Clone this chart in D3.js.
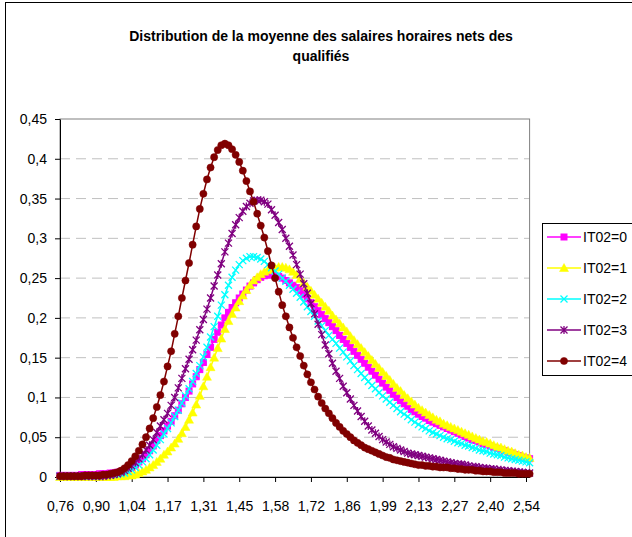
<!DOCTYPE html>
<html>
<head>
<meta charset="utf-8">
<script src="https://cdn.jsdelivr.net/npm/d3@7"></script>
<style>
  body { margin: 0; background: #fff; }
  svg { display: block; font-family: "Liberation Sans", Arial, sans-serif; }
</style>
</head>
<body>
<script>
// Distribution de la moyenne des salaires horaires nets des qualifiés
// 132 categories, labels every 10 categories

const xTickLabels = ["0,76", "0,90", "1,04", "1,17", "1,31", "1,45", "1,58", "1,72", "1,86", "1,99", "2,13", "2,27", "2,40", "2,54"];
const yTickValues = [0, 0.05, 0.1, 0.15, 0.2, 0.25, 0.3, 0.35, 0.4, 0.45];
const yTickLabels = ["0", "0,05", "0,1", "0,15", "0,2", "0,25", "0,3", "0,35", "0,4", "0,45"];
const seriesNames = ["IT02=0", "IT02=1", "IT02=2", "IT02=3", "IT02=4"];

const it0 = [
  0.002, 0.002, 0.002, 0.002, 0.002, 0.002, 0.003, 0.003, 0.003, 0.003,
  0.003, 0.004, 0.004, 0.004, 0.005, 0.005, 0.006, 0.007, 0.008, 0.010,
  0.012, 0.015, 0.019, 0.023, 0.028, 0.033, 0.039, 0.046, 0.052, 0.058,
  0.064, 0.070, 0.077, 0.084, 0.092, 0.100, 0.108, 0.117, 0.126, 0.135,
  0.144, 0.154, 0.163, 0.173, 0.182, 0.191, 0.200, 0.207, 0.213, 0.219,
  0.225, 0.230, 0.235, 0.240, 0.244, 0.248, 0.251, 0.253, 0.254, 0.254,
  0.253, 0.252, 0.250, 0.247, 0.244, 0.241, 0.238, 0.234, 0.229, 0.224,
  0.219, 0.214, 0.209, 0.204, 0.199, 0.194, 0.189, 0.184, 0.178, 0.173,
  0.168, 0.163, 0.158, 0.153, 0.148, 0.143, 0.138, 0.133, 0.128, 0.123,
  0.118, 0.113, 0.109, 0.104, 0.100, 0.096, 0.092, 0.089, 0.085, 0.082,
  0.079, 0.076, 0.074, 0.071, 0.069, 0.067, 0.065, 0.063, 0.061, 0.059,
  0.057, 0.055, 0.053, 0.051, 0.049, 0.047, 0.046, 0.044, 0.042, 0.041,
  0.039, 0.037, 0.036, 0.034, 0.033, 0.031, 0.030, 0.028, 0.027, 0.025,
  0.024, 0.023
];

const it1 = [
  0.000, 0.000, 0.000, 0.000, 0.000, 0.000, 0.000, 0.000, 0.000, 0.000,
  0.000, 0.000, 0.000, 0.000, 0.000, 0.000, 0.001, 0.001, 0.001, 0.002,
  0.002, 0.003, 0.005, 0.007, 0.009, 0.012, 0.015, 0.019, 0.023, 0.028,
  0.032, 0.037, 0.042, 0.048, 0.055, 0.063, 0.072, 0.081, 0.091, 0.102,
  0.114, 0.126, 0.138, 0.150, 0.162, 0.174, 0.186, 0.196, 0.205, 0.213,
  0.221, 0.228, 0.235, 0.241, 0.247, 0.251, 0.255, 0.258, 0.260, 0.262,
  0.263, 0.264, 0.264, 0.263, 0.261, 0.258, 0.254, 0.249, 0.244, 0.239,
  0.234, 0.229, 0.224, 0.219, 0.214, 0.209, 0.203, 0.198, 0.193, 0.188,
  0.183, 0.177, 0.172, 0.167, 0.162, 0.157, 0.152, 0.147, 0.142, 0.137,
  0.132, 0.127, 0.122, 0.117, 0.112, 0.108, 0.103, 0.099, 0.095, 0.091,
  0.087, 0.084, 0.081, 0.078, 0.075, 0.072, 0.070, 0.067, 0.065, 0.063,
  0.061, 0.059, 0.057, 0.055, 0.053, 0.051, 0.049, 0.047, 0.045, 0.044,
  0.042, 0.040, 0.038, 0.037, 0.035, 0.033, 0.032, 0.030, 0.028, 0.027,
  0.025, 0.024
];

const it2 = [
  0.001, 0.001, 0.001, 0.001, 0.001, 0.001, 0.001, 0.001, 0.001, 0.001,
  0.001, 0.001, 0.002, 0.002, 0.002, 0.003, 0.003, 0.004, 0.005, 0.007,
  0.009, 0.012, 0.015, 0.019, 0.023, 0.028, 0.034, 0.040, 0.047, 0.054,
  0.061, 0.068, 0.076, 0.084, 0.093, 0.102, 0.111, 0.120, 0.130, 0.140,
  0.151, 0.163, 0.176, 0.189, 0.202, 0.216, 0.229, 0.241, 0.251, 0.260,
  0.267, 0.272, 0.275, 0.277, 0.277, 0.276, 0.274, 0.271, 0.267, 0.263,
  0.259, 0.255, 0.250, 0.246, 0.241, 0.236, 0.231, 0.226, 0.220, 0.214,
  0.208, 0.202, 0.196, 0.190, 0.184, 0.178, 0.173, 0.168, 0.162, 0.157,
  0.151, 0.146, 0.140, 0.135, 0.130, 0.125, 0.120, 0.115, 0.111, 0.106,
  0.102, 0.098, 0.094, 0.090, 0.086, 0.082, 0.079, 0.076, 0.072, 0.069,
  0.066, 0.063, 0.061, 0.058, 0.056, 0.054, 0.052, 0.050, 0.048, 0.047,
  0.045, 0.043, 0.042, 0.040, 0.039, 0.037, 0.036, 0.034, 0.033, 0.032,
  0.030, 0.029, 0.028, 0.027, 0.025, 0.024, 0.023, 0.022, 0.021, 0.020,
  0.019, 0.018
];

const it3 = [
  0.001, 0.001, 0.001, 0.001, 0.001, 0.001, 0.001, 0.001, 0.001, 0.001,
  0.001, 0.001, 0.001, 0.002, 0.002, 0.003, 0.004, 0.006, 0.008, 0.011,
  0.014, 0.018, 0.023, 0.028, 0.034, 0.040, 0.047, 0.056, 0.064, 0.072,
  0.080, 0.090, 0.100, 0.112, 0.124, 0.136, 0.148, 0.160, 0.172, 0.185,
  0.198, 0.211, 0.225, 0.240, 0.254, 0.268, 0.283, 0.294, 0.306, 0.317,
  0.326, 0.334, 0.340, 0.344, 0.347, 0.348, 0.348, 0.346, 0.343, 0.336,
  0.329, 0.320, 0.311, 0.300, 0.290, 0.279, 0.267, 0.255, 0.243, 0.231,
  0.218, 0.205, 0.192, 0.179, 0.166, 0.155, 0.143, 0.133, 0.124, 0.114,
  0.106, 0.098, 0.090, 0.083, 0.076, 0.070, 0.064, 0.059, 0.055, 0.051,
  0.047, 0.044, 0.041, 0.038, 0.036, 0.034, 0.032, 0.030, 0.029, 0.028,
  0.027, 0.026, 0.025, 0.024, 0.023, 0.022, 0.021, 0.020, 0.019, 0.018,
  0.017, 0.016, 0.016, 0.015, 0.014, 0.013, 0.013, 0.012, 0.011, 0.011,
  0.010, 0.010, 0.009, 0.009, 0.008, 0.008, 0.007, 0.007, 0.006, 0.006,
  0.005, 0.005
];

const it4 = [
  0.001, 0.001, 0.001, 0.001, 0.001, 0.001, 0.001, 0.002, 0.002, 0.002,
  0.002, 0.002, 0.003, 0.003, 0.004, 0.005, 0.006, 0.008, 0.011, 0.015,
  0.020, 0.026, 0.033, 0.041, 0.050, 0.061, 0.074, 0.088, 0.103, 0.120,
  0.139, 0.158, 0.180, 0.202, 0.225, 0.247, 0.269, 0.292, 0.315, 0.337,
  0.356, 0.374, 0.389, 0.402, 0.411, 0.417, 0.419, 0.417, 0.412, 0.405,
  0.396, 0.385, 0.372, 0.359, 0.346, 0.331, 0.316, 0.301, 0.284, 0.266,
  0.250, 0.233, 0.216, 0.202, 0.188, 0.175, 0.163, 0.152, 0.140, 0.129,
  0.119, 0.110, 0.101, 0.093, 0.086, 0.080, 0.074, 0.068, 0.063, 0.058,
  0.054, 0.050, 0.046, 0.043, 0.040, 0.037, 0.035, 0.033, 0.031, 0.029,
  0.027, 0.025, 0.024, 0.022, 0.021, 0.020, 0.019, 0.018, 0.017, 0.016,
  0.015, 0.015, 0.014, 0.014, 0.013, 0.013, 0.012, 0.012, 0.012, 0.011,
  0.011, 0.010, 0.010, 0.009, 0.009, 0.009, 0.008, 0.008, 0.007, 0.007,
  0.007, 0.006, 0.006, 0.006, 0.005, 0.005, 0.005, 0.005, 0.004, 0.004,
  0.004, 0.004
];

const width = 632;
const height = 537;
const plot = { left: 60, right: 529.6, top: 119, bottom: 477 };

const seriesStyles = [
  { color: "#ff00ff", marker: "square" },
  { color: "#ffff00", marker: "triangle" },
  { color: "#00ffff", marker: "x" },
  { color: "#800080", marker: "star" },
  { color: "#800000", marker: "circle" },
];

const allSeries = [it0, it1, it2, it3, it4];

const svg = d3
  .select("body")
  .append("svg")
  .attr("width", width)
  .attr("height", height);

svg.append("rect").attr("width", width).attr("height", height).attr("fill", "#fff");

// chart area border
svg
  .append("rect")
  .attr("x", 5.5)
  .attr("y", 2.5)
  .attr("width", 640)
  .attr("height", 540)
  .attr("fill", "none")
  .attr("stroke", "#000")
  .attr("stroke-width", 1);

// title
const title = svg
  .append("text")
  .attr("text-anchor", "middle")
  .attr("font-weight", "bold")
  .attr("font-size", 14)
  .attr("fill", "#000");
title.append("tspan").attr("x", 321).attr("y", 40.5).text("Distribution de la moyenne des salaires horaires nets des");
title.append("tspan").attr("x", 321).attr("y", 61).text("qualifiés");

const xScale = d3
  .scaleLinear()
  .domain([0, it0.length - 1])
  .range([plot.left, plot.right]);

const yScale = d3
  .scaleLinear()
  .domain([0, 0.45])
  .range([plot.bottom, plot.top]);

// gridlines
svg
  .append("g")
  .selectAll("line")
  .data(yTickValues.filter((d) => d > 0 && d < 0.45))
  .enter()
  .append("line")
  .attr("x1", plot.left)
  .attr("x2", plot.right)
  .attr("y1", (d) => yScale(d))
  .attr("y2", (d) => yScale(d))
  .attr("stroke", "#c0c0c0")
  .attr("stroke-width", 1)
  .attr("stroke-dasharray", "10,6");

// plot area border
svg
  .append("rect")
  .attr("x", plot.left)
  .attr("y", plot.top)
  .attr("width", plot.right - plot.left)
  .attr("height", plot.bottom - plot.top)
  .attr("fill", "none")
  .attr("stroke", "#808080")
  .attr("stroke-width", 1);

// axes
const yAxis = d3
  .axisLeft(yScale)
  .tickValues(yTickValues)
  .tickFormat((d, i) => yTickLabels[i])
  .tickSize(5)
  .tickSizeOuter(0)
  .tickPadding(8);

svg
  .append("g")
  .attr("transform", "translate(" + plot.left + ",0)")
  .call(yAxis)
  .attr("font-family", "Liberation Sans, Arial, sans-serif")
  .attr("font-size", 14);

const xTickIndex = d3.range(0, it0.length, 10);
const xAxis = d3
  .axisBottom(xScale)
  .tickValues(xTickIndex)
  .tickFormat((d, i) => xTickLabels[i])
  .tickSize(5)
  .tickSizeOuter(0)
  .tickPadding(19);

svg
  .append("g")
  .attr("transform", "translate(0," + plot.bottom + ")")
  .call(xAxis)
  .attr("font-family", "Liberation Sans, Arial, sans-serif")
  .attr("font-size", 14);

svg.selectAll(".domain").attr("stroke", "#000");
svg.selectAll(".tick line").attr("stroke", "#000");

const drawMarker = (g, type, color) => {
  if (type === "square") {
    g.append("rect")
      .attr("x", -3)
      .attr("y", -3)
      .attr("width", 6)
      .attr("height", 6)
      .attr("fill", color)
      .attr("stroke", color);
  } else if (type === "triangle") {
    g.append("path")
      .attr("d", "M0,-4.5L4.5,3.5L-4.5,3.5Z")
      .attr("fill", color)
      .attr("stroke", color)
      .attr("stroke-width", 0.5);
  } else if (type === "x") {
    g.append("path")
      .attr("d", "M-3.5,-3.5L3.5,3.5M-3.5,3.5L3.5,-3.5")
      .attr("fill", "none")
      .attr("stroke", color)
      .attr("stroke-width", 1.3);
  } else if (type === "star") {
    g.append("path")
      .attr("d", "M-3.5,-3.5L3.5,3.5M-3.5,3.5L3.5,-3.5M0,-4L0,4")
      .attr("fill", "none")
      .attr("stroke", color)
      .attr("stroke-width", 1.3);
  } else {
    g.append("circle")
      .attr("r", 3.6)
      .attr("fill", color)
      .attr("stroke", color)
      .attr("stroke-width", 0.5);
  }
};

const line = d3
  .line()
  .x((d, i) => xScale(i))
  .y((d) => yScale(d));

allSeries.forEach((values, s) => {
  const style = seriesStyles[s];
  const g = svg.append("g");

  g.append("path")
    .datum(values)
    .attr("d", line)
    .attr("fill", "none")
    .attr("stroke", style.color)
    .attr("stroke-width", 1.5);

  g.selectAll("g.marker")
    .data(values)
    .enter()
    .append("g")
    .attr("class", "marker")
    .attr("transform", (d, i) => "translate(" + xScale(i) + "," + yScale(d) + ")")
    .each(function () {
      drawMarker(d3.select(this), style.marker, style.color);
    });
});

// legend
const legendTop = 223;
const legendStep = 31;

svg
  .append("rect")
  .attr("x", 542.5)
  .attr("y", legendTop + 0.5)
  .attr("width", 95)
  .attr("height", 152)
  .attr("fill", "#fff")
  .attr("stroke", "#000");

const legend = svg
  .append("g")
  .selectAll("g")
  .data(seriesNames)
  .enter()
  .append("g")
  .attr("transform", (d, i) => "translate(0," + (legendTop + 14 + i * legendStep) + ")");

legend
  .append("line")
  .attr("x1", 547)
  .attr("x2", 581)
  .attr("stroke", (d, i) => seriesStyles[i].color)
  .attr("stroke-width", 1.5);

legend.each(function (d, i) {
  const m = d3.select(this).append("g").attr("transform", "translate(564,0)");
  drawMarker(m, seriesStyles[i].marker, seriesStyles[i].color);
});

legend
  .append("text")
  .attr("x", 583)
  .attr("y", 5)
  .attr("font-size", 14)
  .attr("fill", "#000")
  .text((d) => d);
</script>
</body>
</html>
